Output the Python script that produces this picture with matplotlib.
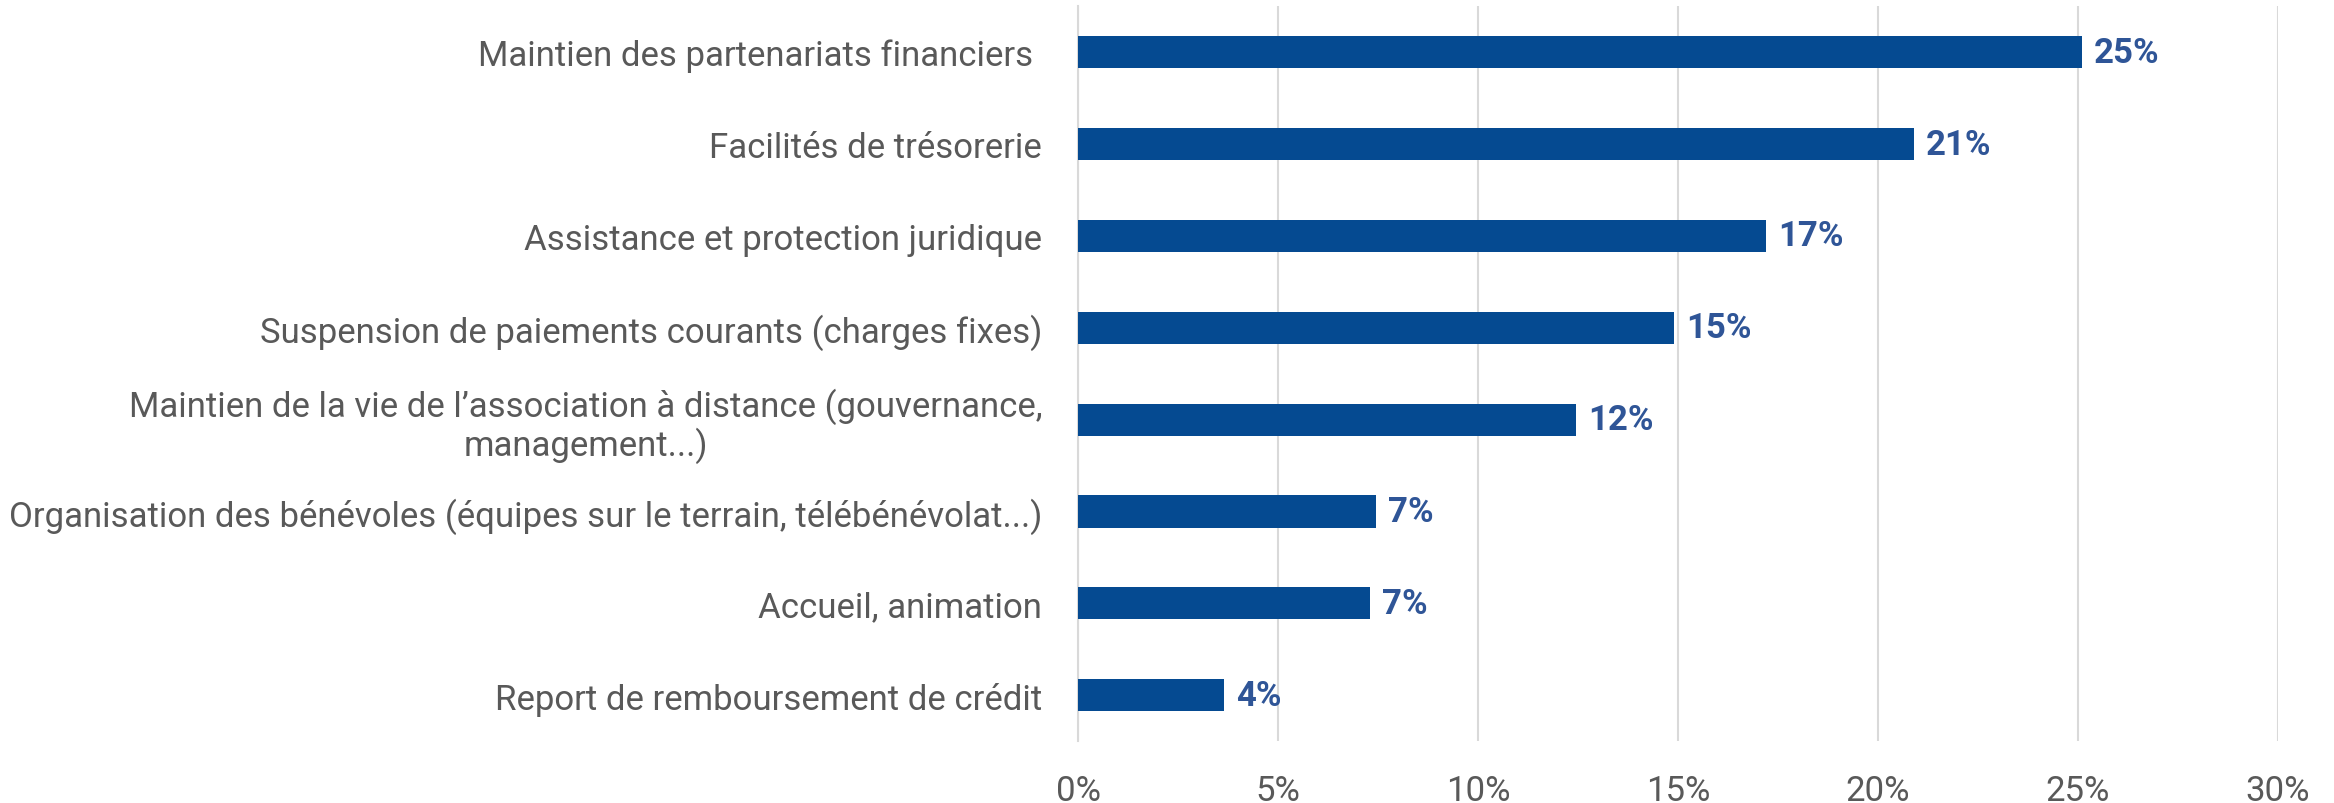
import matplotlib
matplotlib.use("Agg")
import matplotlib.pyplot as plt
import numpy as np

plt.rcParams["font.family"] = ["Roboto", "DejaVu Sans"]

categories = [
    "Maintien des partenariats financiers ",
    "Facilités de trésorerie",
    "Assistance et protection juridique",
    "Suspension de paiements courants (charges fixes)",
    "Maintien de la vie de l’association à distance (gouvernance,\nmanagement...)",
    "Organisation des bénévoles (équipes sur le terrain, télébénévolat...)",
    "Accueil, animation",
    "Report de remboursement de crédit",
]
values = [25.1, 20.9, 17.2, 14.9, 12.45, 7.45, 7.3, 3.65]
xticks = [0, 5, 10, 15, 20, 25, 30]

bar_color = "#054A91"
label_color = "#2F5597"
text_color = "#595959"

fig = plt.figure(figsize=(23.34, 8.04), dpi=100)
ax = fig.add_axes([0.462, 0.077, 0.514, 0.914])

y = np.arange(len(categories))
ax.barh(y, values, height=0.35, color=bar_color, zorder=3)
ax.set_ylim(len(categories) - 0.5, -0.5)
ax.set_xlim(0, 30)

for yi, v in zip(y, values):
    ax.text(v + 0.3, yi, f"{v:.0f}%", va="center", ha="left",
            fontsize=25, fontweight="bold", color=label_color)

ax.set_yticks(y)
ax.set_yticklabels(categories, fontsize=25, color=text_color,
                   multialignment="center", linespacing=1.1)
ax.set_xticks(xticks)
ax.set_xticklabels([f"{t}%" for t in xticks], fontsize=25, color=text_color)
ax.tick_params(axis="both", length=0)
ax.tick_params(axis="y", pad=26)
ax.tick_params(axis="x", pad=24)

ax.grid(axis="x", color="#D9D9D9", linewidth=1.5, zorder=0)
for s in ["top", "right", "bottom"]:
    ax.spines[s].set_visible(False)
ax.spines["left"].set_color("#D9D9D9")
ax.spines["left"].set_linewidth(1.5)

fig.savefig("out.png", dpi=100, facecolor="white")
